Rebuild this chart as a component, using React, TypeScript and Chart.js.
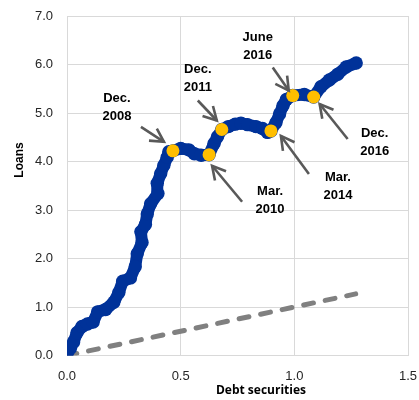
import React, { useEffect, useRef } from "react";
import { Chart, registerables } from "chart.js";

Chart.register(...registerables);

// Blue path (monthly observations): debt securities (x) vs loans (y)
const pathX = [0.0, 0.015, 0.029, 0.044, 0.066, 0.09, 0.115, 0.135, 0.17, 0.206, 0.228, 0.245, 0.279, 0.3, 0.309, 0.33, 0.325, 0.345, 0.353, 0.368, 0.4, 0.397, 0.412, 0.426, 0.441, 0.448, 0.466, 0.5, 0.536, 0.56, 0.59, 0.625, 0.647, 0.662, 0.681, 0.71, 0.74, 0.765, 0.794, 0.831, 0.86, 0.882, 0.897, 0.919, 0.935, 0.95, 0.965, 0.993, 1.044, 1.085, 1.117, 1.154, 1.191, 1.228, 1.272];
const pathY = [0.03, 0.15, 0.28, 0.47, 0.6, 0.65, 0.69, 0.9, 0.95, 1.1, 1.3, 1.53, 1.6, 1.83, 2.1, 2.33, 2.55, 2.7, 2.92, 3.13, 3.34, 3.55, 3.75, 3.92, 4.09, 4.2, 4.22, 4.27, 4.24, 4.16, 4.13, 4.14, 4.37, 4.51, 4.66, 4.72, 4.77, 4.79, 4.76, 4.72, 4.68, 4.6, 4.63, 4.8, 4.98, 5.15, 5.28, 5.36, 5.38, 5.33, 5.54, 5.68, 5.8, 5.95, 6.03];

// Highlighted dates
const markLabels = ["Dec.\n2008", "Mar.\n2010", "Dec.\n2011", "Mar.\n2014", "June\n2016", "Dec.\n2016"];
const markX = [0.466, 0.625, 0.681, 0.897, 0.993, 1.085];
const markY = [4.22, 4.14, 4.66, 4.63, 5.36, 5.33];

// 45-degree reference line
const refX = [0, 1.27];
const refY = [0, 1.27];

const xTicks = [0, 0.5, 1.0, 1.5];
const yTicks = [0, 1, 2, 3, 4, 5, 6, 7];

// annotation layout (pixel offsets from the highlighted point)
const annoLayout = [
  { tail: [-32, -24], tip: [-9, -9], label: [-56, -43] },
  { tail: [33, 47], tip: [3, 11], label: [61, 46] },
  { tail: [-24, -29], tip: [-5, -9], label: [-24, -51] },
  { tail: [38, 43], tip: [10, 5], label: [67, 55] },
  { tail: [-20, -28], tip: [-4, -5], label: [-35, -49] },
  { tail: [34, 42], tip: [6, 7], label: [61, 45] },
];

const annotationPlugin = {
  id: "annos",
  afterDatasetsDraw(chart: any) {
    const ctx = chart.ctx;
    const xs = chart.scales.x;
    const ys = chart.scales.y;
    ctx.save();
    for (let i = 0; i < markLabels.length; i++) {
      const px = xs.getPixelForValue(markX[i]);
      const py = ys.getPixelForValue(markY[i]);
      const L = annoLayout[i];
      const tx = px + L.tip[0], ty = py + L.tip[1];
      const sx = px + L.tail[0], sy = py + L.tail[1];
      ctx.strokeStyle = "#595959";
      ctx.lineWidth = 2.6;
      ctx.lineCap = "butt";
      ctx.lineJoin = "miter";
      ctx.beginPath();
      ctx.moveTo(sx, sy);
      ctx.lineTo(tx, ty);
      ctx.stroke();
      const ang = Math.atan2(sy - ty, sx - tx);
      const wing = 15;
      const spread = 0.5;
      ctx.beginPath();
      ctx.moveTo(tx + wing * Math.cos(ang + spread), ty + wing * Math.sin(ang + spread));
      ctx.lineTo(tx, ty);
      ctx.lineTo(tx + wing * Math.cos(ang - spread), ty + wing * Math.sin(ang - spread));
      ctx.stroke();
      const lines = markLabels[i].split("\n");
      ctx.fillStyle = "#000";
      ctx.font = "bold 13px 'Liberation Sans', Arial, sans-serif";
      ctx.textAlign = "center";
      ctx.textBaseline = "middle";
      const cx = px + L.label[0], cy = py + L.label[1];
      ctx.fillText(lines[0], cx, cy - 9);
      ctx.fillText(lines[1], cx, cy + 9);
    }
    // axis titles
    ctx.fillStyle = "#000";
    ctx.font = "bold 12px 'Open Sans', sans-serif";
    ctx.textAlign = "center";
    ctx.textBaseline = "middle";
    ctx.fillText("Debt securities", 261, 391);
    ctx.save();
    ctx.translate(20, 160);
    ctx.rotate(-Math.PI / 2);
    ctx.font = "bold 12px 'Liberation Sans', Arial, sans-serif";
    ctx.fillText("Loans", 0, 0);
    ctx.restore();
    ctx.restore();
  },
};

export default function App() {
  const ref = useRef<HTMLCanvasElement>(null);
  useEffect(() => {
    const canvas = ref.current!;
    const chart = new Chart(canvas, {
      type: "scatter",
      data: {
        datasets: [
          {
            label: "marks",
            data: markX.map((x, i) => ({ x, y: markY[i] })),
            showLine: false,
            pointRadius: 6.5,
            pointBackgroundColor: "#FFBE00",
            pointBorderWidth: 0,
            pointBorderColor: "#FFBE00",
          },
          {
            label: "path",
            data: pathX.map((x, i) => ({ x, y: pathY[i] })),
            showLine: true,
            borderColor: "#003299",
            borderWidth: 12,
            borderCapStyle: "round",
            borderJoinStyle: "round",
            pointRadius: 6.7,
            pointBackgroundColor: "#003299",
            pointBorderWidth: 0,
            tension: 0,
          },
          {
            label: "ref",
            data: refX.map((x, i) => ({ x, y: refY[i] })),
            showLine: true,
            borderColor: "#808080",
            borderWidth: 5,
            borderDash: [10, 12],
            borderCapStyle: "round",
            pointRadius: 0,
          },
        ],
      },
      options: {
        animation: false,
        responsive: false,
        devicePixelRatio: 1,
        layout: { padding: { top: 16, right: 11, left: 0, bottom: 0 } },
        plugins: { legend: { display: false }, tooltip: { enabled: false } },
        scales: {
          x: {
            type: "linear",
            min: 0,
            max: 1.5,
            afterBuildTicks: (s: any) => {
              s.ticks = xTicks.map((v) => ({ value: v }));
            },
            afterFit: (s: any) => {
              s.height = 44.5;
              s.paddingLeft = 0;
              s.paddingRight = 0;
            },
            ticks: {
              padding: 13,
              color: "#262626",
              font: { family: "'Liberation Sans', Arial, sans-serif", size: 13 },
              callback: (v: any) => Number(v).toFixed(1),
            },
            grid: { color: "#d9d9d9", drawTicks: false, lineWidth: 1 },
            border: { color: "#d9d9d9" },
          },
          y: {
            type: "linear",
            min: 0,
            max: 7,
            afterBuildTicks: (s: any) => {
              s.ticks = yTicks.map((v) => ({ value: v }));
            },
            afterFit: (s: any) => {
              s.width = 67;
              s.paddingTop = 0;
              s.paddingBottom = 0;
            },
            ticks: {
              padding: 14,
              color: "#262626",
              font: { family: "'Liberation Sans', Arial, sans-serif", size: 13 },
              callback: (v: any) => Number(v).toFixed(1),
            },
            grid: { color: "#d9d9d9", drawTicks: false, lineWidth: 1 },
            border: { color: "#d9d9d9" },
          },
        },
      },
      plugins: [annotationPlugin],
    } as any);
    return () => chart.destroy();
  }, []);
  return (
    <div style={{ position: "fixed", left: 0, top: 0, width: 419, height: 400, background: "#fff" }}>
      <canvas ref={ref} width={419} height={400} style={{ display: "block", width: 419, height: 400 }} />
    </div>
  );
}
